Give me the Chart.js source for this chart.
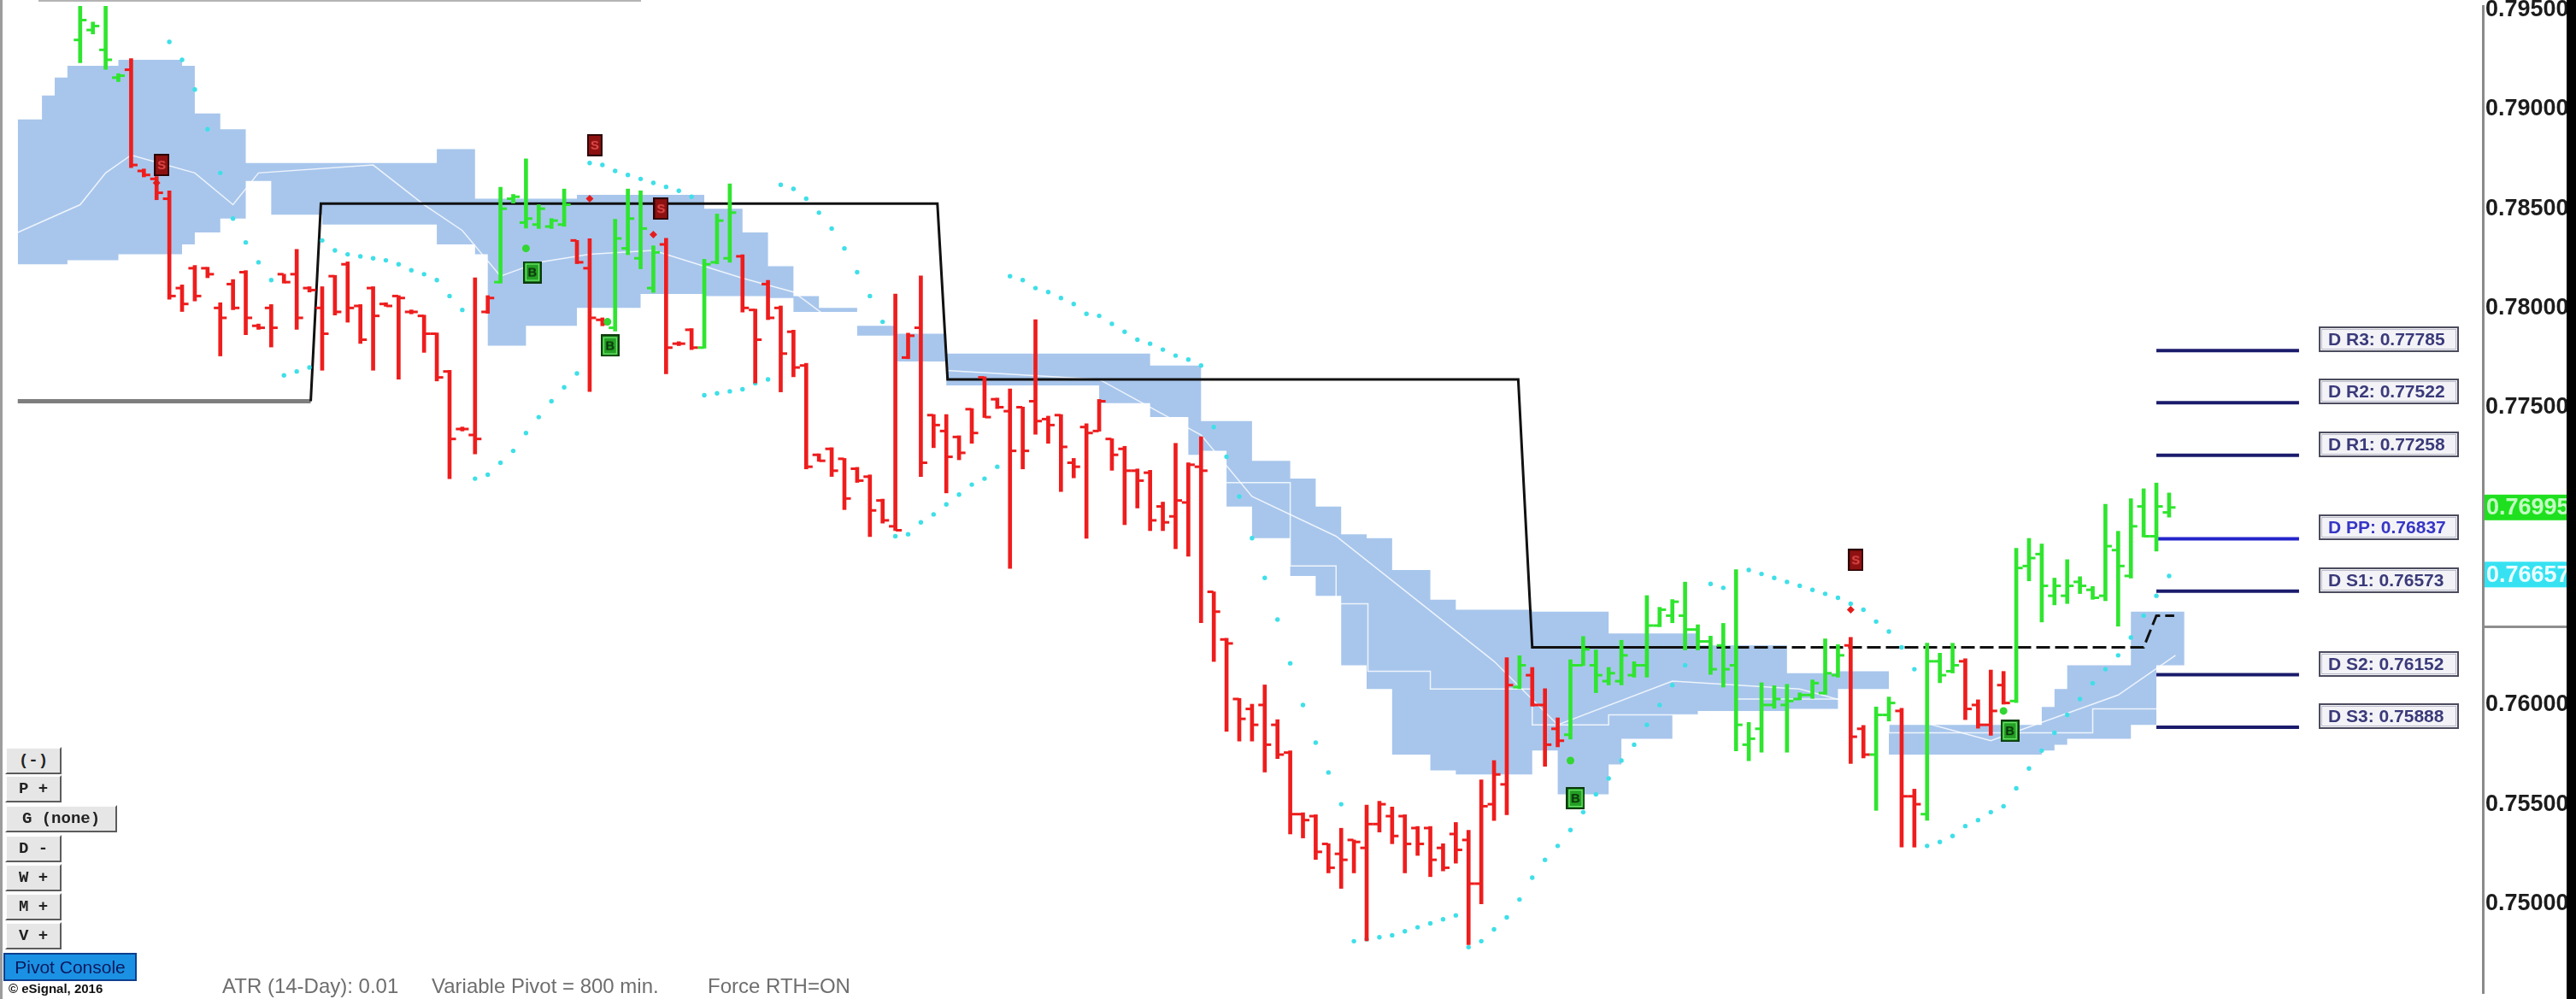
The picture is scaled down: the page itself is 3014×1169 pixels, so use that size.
<!DOCTYPE html>
<html>
<head>
<meta charset="utf-8">
<script src="https://cdn.jsdelivr.net/npm/chart.js@4.4.1/dist/chart.umd.min.js"></script>
<style>
  html, body { margin: 0; padding: 0; background: #fff; }
  #wrap { position: relative; width: 3014px; height: 1169px; overflow: hidden; background: #fff; }
  #chart { position: absolute; left: 0; top: 0; }
  .btn {
    position: absolute; left: 6px; width: 66px; height: 32px; box-sizing: border-box;
    background: #e6e6e6; border: 2px solid; border-color: #fdfdfd #5c5c5c #5c5c5c #fdfdfd;
    font: bold 19px "Liberation Mono", "DejaVu Sans Mono", monospace; color: #222;
    display: flex; align-items: center; justify-content: center; white-space: pre;
  }
  #console {
    position: absolute; left: 4px; top: 1115px; width: 156px; height: 33px; box-sizing: border-box;
    background: #1b91e4; border: 2px solid #0c3f8e; color: #0b1a5c;
    font: 21px "Liberation Sans", Arial, sans-serif; display: flex; align-items: center; justify-content: center;
  }
  #copy { position: absolute; left: 10px; top: 1148px; font: bold 15px "Liberation Sans", Arial, sans-serif; color: #111; }
  .info { position: absolute; top: 1140px; font: 24px "Liberation Sans", Arial, sans-serif; color: #6e6e6e; white-space: pre; }
  #leftEdge { position: absolute; left: 0; top: 0; width: 3px; height: 1169px; background: #9c9c9c; }
  #topEdge { position: absolute; left: 45px; top: 0; width: 705px; height: 2px; background: #b4b4b4; }
  #rightEdge { position: absolute; left: 3003px; top: 0; width: 11px; height: 1169px; background: #000; }
</style>
</head>
<body>
<div id="wrap">
  <canvas id="chart" width="3014" height="1169"></canvas>
  <div id="leftEdge"></div>
  <div id="topEdge"></div>
  <div class="btn" style="top:874px">(-)</div>
  <div class="btn" style="top:907px">P +</div>
  <div class="btn" style="top:942px;width:131px">G (none)</div>
  <div class="btn" style="top:977px">D -</div>
  <div class="btn" style="top:1011px">W +</div>
  <div class="btn" style="top:1045px">M +</div>
  <div class="btn" style="top:1079px">V +</div>
  <div id="console">Pivot Console</div>
  <div id="copy">© eSignal, 2016</div>
  <div class="info" style="left:260px">ATR (14-Day): 0.01</div>
  <div class="info" style="left:505px">Variable Pivot = 800 min.</div>
  <div class="info" style="left:828px">Force RTH=ON</div>
  <div id="rightEdge"></div>
</div>
<script>
// OHLC bars, one per bar index
const barOpen = [
  0.7935, 0.7940, 0.7930, 0.7916, 0.7920, 0.7869, 0.7865, 0.7855, 0.7810, 0.7820,
  0.7820, 0.7800, 0.7812, 0.7818, 0.7791, 0.7800, 0.7817, 0.7817, 0.7810, 0.7800,
  0.7816, 0.7822, 0.7801, 0.7810, 0.7802, 0.7806, 0.7798, 0.7796, 0.7787, 0.7768,
  0.7739, 0.7736, 0.7798, 0.7813, 0.7855, 0.7843, 0.7842, 0.7841, 0.7842, 0.7834,
  0.7820, 0.7794, 0.7790, 0.7830, 0.7825, 0.7810, 0.7832, 0.7782, 0.7789, 0.7780,
  0.7823, 0.7825, 0.7826, 0.7799, 0.7812, 0.7800, 0.7788, 0.7771, 0.7726, 0.7729,
  0.7724, 0.7719, 0.7715, 0.7703, 0.7690, 0.7775, 0.7790, 0.7746, 0.7738, 0.7735,
  0.7749, 0.7765, 0.7754, 0.7748, 0.7750, 0.7753, 0.7744, 0.7746, 0.7722, 0.7740,
  0.7738, 0.7734, 0.7729, 0.7718, 0.7717, 0.7700, 0.7695, 0.7702, 0.7720, 0.7657,
  0.7633, 0.7603, 0.7598, 0.7600, 0.7590, 0.7576, 0.7545, 0.7544, 0.7530, 0.7525,
  0.7532, 0.7528, 0.7540, 0.7544, 0.7544, 0.7538, 0.7538, 0.7528, 0.7535, 0.7532,
  0.7510, 0.7550, 0.7560, 0.7609, 0.7615, 0.7600, 0.7588, 0.7585, 0.7620, 0.7620,
  0.7612, 0.7612, 0.7615, 0.7620, 0.7640, 0.7645, 0.7645, 0.7638, 0.7632, 0.7630,
  0.7620, 0.7580, 0.7588, 0.7600, 0.7600, 0.7603, 0.7605, 0.7606, 0.7615, 0.7630,
  0.7588, 0.7575, 0.7595, 0.7597, 0.7554, 0.7545, 0.7622, 0.7617, 0.7622, 0.7600,
  0.7590, 0.7610, 0.7602, 0.7670, 0.7676, 0.7655, 0.7655, 0.7662, 0.7658, 0.7655,
  0.7678, 0.7665, 0.7700, 0.7685, 0.7697
];
const barHigh = [
  0.7975, 0.7944, 0.7975, 0.7918, 0.79256, 0.7870, 0.78662, 0.78590, 0.78116, 0.78214,
  0.78205, 0.78026, 0.78143, 0.78188, 0.77919, 0.78017, 0.78170, 0.78295, 0.78107, 0.78107,
  0.78164, 0.78232, 0.78017, 0.78107, 0.78026, 0.78062, 0.7799, 0.77964, 0.77874, 0.77686,
  0.7740, 0.78152, 0.78062, 0.78608, 0.78572, 0.78751, 0.7852, 0.7845, 0.78599, 0.78340,
  0.78349, 0.7795, 0.78447, 0.78599, 0.78590, 0.78313, 0.78351, 0.7783, 0.77896, 0.78245,
  0.78473, 0.78625, 0.78268, 0.77994, 0.78139, 0.7801, 0.77888, 0.77721, 0.77265, 0.77296,
  0.77242, 0.77197, 0.77159, 0.77037, 0.78070, 0.77873, 0.78161, 0.77463, 0.77463, 0.77356,
  0.77493, 0.77653, 0.77546, 0.77592, 0.77501, 0.77941, 0.77455, 0.77463, 0.77242, 0.77417,
  0.77539, 0.77341, 0.77303, 0.77189, 0.77182, 0.77022, 0.77318, 0.77220, 0.77351, 0.76570,
  0.76336, 0.76033, 0.76004, 0.76101, 0.75926, 0.75769, 0.75457, 0.75447, 0.75301, 0.75379,
  0.75320, 0.75496, 0.75515, 0.75486, 0.75447, 0.75388, 0.75388, 0.75301, 0.75408, 0.75369,
  0.75623, 0.75720, 0.76238, 0.76248, 0.76189, 0.76082, 0.75935, 0.76228, 0.76345, 0.76277,
  0.76189, 0.76326, 0.76218, 0.76551, 0.76492, 0.76531, 0.76619, 0.76404, 0.76347, 0.76411,
  0.76682, 0.75912, 0.76112, 0.76097, 0.76104, 0.76061, 0.76126, 0.76333, 0.76304, 0.76340,
  0.75897, 0.75990, 0.76040, 0.75983, 0.75576, 0.76311, 0.76261, 0.76311, 0.76233, 0.76026,
  0.76176, 0.76169, 0.76789, 0.76839, 0.76811, 0.76639, 0.76732, 0.76646, 0.76597, 0.77011,
  0.76875, 0.77039, 0.77089, 0.77118, 0.77068
];
const barLow = [
  0.79235, 0.7938, 0.79202, 0.7914, 0.78707, 0.7866, 0.78545, 0.78044, 0.77982, 0.78035,
  0.78152, 0.77758, 0.77991, 0.77865, 0.77892, 0.77803, 0.78125, 0.77892, 0.7808, 0.77686,
  0.77964, 0.77928, 0.77821, 0.77686, 0.78008, 0.77641, 0.7797, 0.77776, 0.77632, 0.77140,
  0.7738, 0.77265, 0.77973, 0.78125, 0.78528, 0.78402, 0.7840, 0.7840, 0.78411, 0.78223,
  0.77579, 0.7791, 0.77883, 0.78268, 0.78197, 0.78078, 0.77668, 0.7781, 0.7779, 0.77797,
  0.78222, 0.7823, 0.77979, 0.77622, 0.77941, 0.77577, 0.77653, 0.77189, 0.77227, 0.77151,
  0.76984, 0.77121, 0.76848, 0.76916, 0.76878, 0.77744, 0.77151, 0.77296, 0.77068, 0.77235,
  0.77318, 0.77448, 0.77493, 0.76688, 0.77189, 0.77364, 0.77318, 0.77075, 0.77144, 0.76840,
  0.77379, 0.77182, 0.76908, 0.76992, 0.76878, 0.76878, 0.76787, 0.76749, 0.76414, 0.76219,
  0.75867, 0.75818, 0.75818, 0.75662, 0.75730, 0.75350, 0.75330, 0.75222, 0.75154, 0.75076,
  0.75154, 0.74812, 0.75360, 0.75301, 0.75154, 0.75242, 0.75135, 0.75164, 0.75203, 0.74793,
  0.74998, 0.75418, 0.75447, 0.76082, 0.75994, 0.75691, 0.75789, 0.75828, 0.76199, 0.76062,
  0.76101, 0.76101, 0.76140, 0.76140, 0.76394, 0.76414, 0.76277, 0.76277, 0.76154, 0.76090,
  0.75769, 0.75719, 0.75762, 0.75983, 0.75762, 0.76026, 0.76033, 0.76054, 0.76140, 0.75705,
  0.75733, 0.75469, 0.75919, 0.75284, 0.75284, 0.75419, 0.76112, 0.76161, 0.75926, 0.75883,
  0.75847, 0.76004, 0.76012, 0.76625, 0.76418, 0.76504, 0.76511, 0.76561, 0.76532, 0.76525,
  0.76397, 0.76639, 0.76846, 0.76775, 0.76946
];
const barClose = [
  0.7945, 0.7942, 0.7925, 0.7917, 0.7872, 0.7867, 0.7858, 0.7806, 0.7802, 0.7806,
  0.7817, 0.7795, 0.7800, 0.7795, 0.7790, 0.7790, 0.7813, 0.7795, 0.7809, 0.7787,
  0.7798, 0.7800, 0.7784, 0.7796, 0.7801, 0.7805, 0.7798, 0.7787, 0.7765, 0.7734,
  0.7739, 0.7734, 0.7805, 0.7850, 0.7856, 0.7845, 0.7850, 0.7844, 0.7852, 0.7823,
  0.7795, 0.7792, 0.7835, 0.7845, 0.7840, 0.7828, 0.7780, 0.7782, 0.7780, 0.7822,
  0.7844, 0.7848, 0.7800, 0.7784, 0.7795, 0.7777, 0.7770, 0.7720, 0.7723, 0.7718,
  0.7704, 0.7713, 0.7698, 0.7693, 0.7688, 0.7786, 0.7722, 0.7741, 0.7725, 0.7727,
  0.7737, 0.7745, 0.7750, 0.7728, 0.7728, 0.7743, 0.7741, 0.7730, 0.7720, 0.7737,
  0.7753, 0.7726, 0.7718, 0.7713, 0.7693, 0.7692, 0.7703, 0.7721, 0.7718, 0.7647,
  0.7631, 0.7593, 0.7590, 0.7580, 0.7575, 0.7545, 0.7542, 0.7526, 0.7518, 0.7522,
  0.7531, 0.7540, 0.7550, 0.7534, 0.7530, 0.7530, 0.7522, 0.7518, 0.7527, 0.7510,
  0.7549, 0.7565, 0.7610, 0.7620, 0.7600, 0.7580, 0.7582, 0.7620, 0.7628, 0.7615,
  0.7616, 0.7625, 0.7620, 0.7640, 0.7648, 0.7652, 0.7638, 0.7632, 0.7618, 0.7618,
  0.7590, 0.7583, 0.7600, 0.7603, 0.7602, 0.7605, 0.7611, 0.7616, 0.7625, 0.7584,
  0.7575, 0.7595, 0.7601, 0.7554, 0.7550, 0.7622, 0.7615, 0.7620, 0.7598, 0.7590,
  0.7597, 0.7601, 0.7669, 0.7674, 0.7660, 0.7660, 0.7660, 0.7660, 0.7654, 0.7680,
  0.7670, 0.7690, 0.7685, 0.7700, 0.76995
];
// g = green bar, r = red bar
const barColor = (
  'ggggrrrrrr' + 'rrrrrrrrrr' + 'rrrrrrrrrr' + 'rrrggggggr' + 'rrggggrrrg' +
  'ggrrrrrrrr' + 'rrrrrrrrrr' + 'rrrrrrrrrr' + 'rrrrrrrrrr' + 'rrrrrrrrrr' +
  'rrrrrrrrrr' + 'rrrgrrrggg' + 'gggggggggg' + 'gggggggggr' + 'rggrrgggrr' +
  'rrgggggggg' + 'ggggg'
).split('');

// parabolic SAR dot per bar (null = none)
const sar = [
  null, null, null, null, null, null, null, 0.7934, 0.7925, 0.7910,
  0.7890, 0.7868, 0.7845, 0.7833, 0.7823, 0.7814, 0.7766, 0.7768, 0.7770, 0.7834,
  0.7829, 0.7827, 0.7826, 0.7825, 0.7824, 0.7822, 0.7819, 0.7817, 0.7814, 0.7806,
  0.7799, 0.7714, 0.7716, 0.7722, 0.7728, 0.7737, 0.7745, 0.7753, 0.7760, 0.7767,
  0.7873, 0.7872, 0.7869, 0.7867, 0.7865, 0.7863, 0.7861, 0.7859, 0.7856, 0.7756,
  0.7757, 0.7758, 0.7759, 0.7762, 0.7764, 0.7862, 0.7860, 0.7855, 0.7848, 0.7840,
  0.7830, 0.7818, 0.7806, 0.7793, 0.7685, 0.7686, 0.7692, 0.7696, 0.7701, 0.7706,
  0.7711, 0.7714, 0.7720, 0.7816, 0.7814, 0.7810, 0.7808, 0.7805, 0.7802, 0.7797,
  0.7796, 0.7792, 0.7788, 0.7784, 0.7782, 0.7779, 0.7776, 0.7774, 0.7771, 0.7740,
  0.7725, 0.7705, 0.7684, 0.7664, 0.7643, 0.7621, 0.7600, 0.7581, 0.7566, 0.7550,
  0.7481, 0.7482, 0.7483, 0.7484, 0.7486, 0.7488, 0.7490, 0.7492, 0.7494, 0.7478,
  0.7481, 0.7487, 0.7493, 0.7502, 0.7513, 0.7522, 0.7529, 0.7537, 0.7546, 0.7555,
  0.7563, 0.7572, 0.7580, 0.7590, 0.7600, 0.7610, 0.7620, null, 0.7661, 0.7659,
  null, 0.7668, 0.7666, 0.7664, 0.7662, 0.7660, 0.7658, 0.7656, 0.7654, 0.7651,
  0.7648, 0.7642, 0.7637, 0.7629, 0.7618, 0.7529, 0.7531, 0.7534, 0.7539, 0.7542,
  0.7546, 0.7549, 0.7558, 0.7568, 0.7577, 0.7586, 0.7595, 0.7603, 0.7611, 0.7618,
  0.7625, 0.7634, 0.7645, 0.7655, 0.7665
];

// cloud band: value holds from each break to the next
const cloudX = [-4.9, -3, -2, -1, 3, 8, 9, 11, 13, 15, 19, 28, 31, 32, 35, 39, 44, 49, 52, 54,
  56, 58, 61, 64, 68, 80, 84, 87, 88, 90, 92, 95, 97, 99, 101, 103, 106, 108, 114, 116,
  120, 121, 125, 127, 134, 138, 142, 154, 155, 156, 161, 163, 165.2];
const cloudTop = [0.7895, 0.7907, 0.7916, 0.7922, 0.7925, 0.7922, 0.7898, 0.7890, 0.7873, 0.7873,
  0.7873, 0.7880, 0.7855, 0.7855, 0.7855, 0.7857, 0.7857, 0.7850, 0.7838, 0.7821,
  0.7806, 0.7800, 0.7791, 0.7787, 0.7777, 0.7777, 0.7771, 0.7771, 0.7743, 0.7743,
  0.7723, 0.7714, 0.7700, 0.7686, 0.7684, 0.7668, 0.7653, 0.7648, 0.7647, 0.7647,
  0.7636, 0.7636, 0.7636, 0.7630, 0.7616, 0.7617, 0.7590, 0.7599, 0.7608, 0.7620,
  0.7647, 0.7647, 0.7647];
const cloudBot = [0.7822, 0.7822, 0.7822, 0.7824, 0.7827, 0.7832, 0.7838, 0.7845, 0.7864, 0.7847,
  0.7842, 0.7832, 0.7827, 0.7781, 0.7791, 0.7800, 0.7807, 0.7806, 0.7806, 0.7805,
  0.7798, 0.7798, 0.7786, 0.7773, 0.7761, 0.7752, 0.7745, 0.7726, 0.7728, 0.7700,
  0.7684, 0.7665, 0.7655, 0.7620, 0.7608, 0.7575, 0.7567, 0.7565, 0.7577, 0.7555,
  0.7570, 0.7583, 0.7595, 0.7597, 0.7598, 0.7608, 0.7575, 0.7577, 0.7580, 0.7583,
  0.7590, 0.7620, 0.7620];

// thin white lines running inside the cloud
const cloudLineAX = [-4.9, 0, 2, 4, 9, 12, 14, 23, 27, 30, 33, 36, 40, 45, 52, 56, 64, 80, 88, 92,
  98.6, 111, 116, 125, 135, 150, 160, 164.5];
const cloudLineAY = [0.7838, 0.7852, 0.7868, 0.7877, 0.7868, 0.7852, 0.7868, 0.7872, 0.7852, 0.7839,
  0.7816, 0.7823, 0.7827, 0.7829, 0.7815, 0.7808, 0.7770, 0.7764, 0.7736, 0.7705,
  0.7685, 0.7622, 0.7590, 0.7612, 0.7608, 0.7582, 0.7605, 0.7625];
const cloudLineBX = [88, 95, 98.6, 100.1, 101.1, 105.1, 106, 111.1, 114, 120, 130, 142, 152, 158, 164];
const cloudLineBY = [0.7712, 0.7670, 0.7651, 0.7651, 0.7617, 0.7617, 0.7608, 0.7608, 0.7590, 0.7595,
  0.7603, 0.7586, 0.7586, 0.7598, 0.7612];

// variable pivot step line
const pivotX = [-4.9, 18.1, 18.9, 67.3, 68.1, 112.9, 114.0, 127, 162.0, 163.0, 164.4];
const pivotY = [0.7753, 0.7753, 0.78525, 0.78525, 0.7764, 0.7764, 0.7629, 0.7629, 0.7629, 0.7645, 0.7645];

// daily pivot levels
const pivotNames = ['R3', 'R2', 'R1', 'PP', 'S1', 'S2', 'S3'];
const pivotLevels = [0.77785, 0.77522, 0.77258, 0.76837, 0.76573, 0.76152, 0.75888];
const pivotSpan = [163.0, 174.2];

// signals
const sellX = [6.4, 40.4, 45.6, 139.4];
const sellY = [0.7872, 0.7882, 0.7850, 0.7673];
const buyX = [35.5, 41.6, 117.4, 151.5];
const buyY = [0.7818, 0.7781, 0.7553, 0.7587];
const redDotX = [6, 40, 45, 139];
const redDotY = [0.7863, 0.7855, 0.7837, 0.7648];
const greenDotX = [35, 41.4, 117, 151];
const greenDotY = [0.7830, 0.7793, 0.7572, 0.7597];

// price flags on the axis
const flagValues = [0.76995, 0.76657];
const flagFill = ['#1fe01f', '#36e2f2'];
const flagText = ['#c4ffc4', '#eaffff'];
const axisMarks = [0.76395];

const yTicks = { min: 0.74549, max: 0.79521, step: 0.005 };

const RED = '#ee1d1d', GREEN = '#2fe52f';
const colOf = c => (c === 'g' ? GREEN : RED);

function makeBox(letter, w, h, edge, fill, inner, ink) {
  const c = document.createElement('canvas');
  c.width = w; c.height = h;
  const g = c.getContext('2d');
  g.fillStyle = edge; g.fillRect(0, 0, w, h);
  g.fillStyle = fill; g.fillRect(2, 2, w - 4, h - 4);
  if (inner) { g.strokeStyle = inner; g.lineWidth = 1; g.strokeRect(3.5, 3.5, w - 7, h - 7); }
  g.fillStyle = ink;
  g.font = 'bold 15px "Liberation Sans", Arial';
  g.textAlign = 'center'; g.textBaseline = 'middle';
  g.fillText(letter, w / 2, h / 2 + 1);
  return c;
}
const sellIcon = makeBox('S', 18, 26, '#2b0404', '#8e1111', null, '#e24a4a');
const buyIcon = makeBox('B', 22, 26, '#0b3a0b', '#24a024', '#7cf07c', '#0b2e0b');

const idx = barOpen.map((_, i) => i);
const pts = (xs, ys) => xs.map((x, k) => ({ x, y: ys[k] }));

const datasets = [
  {
    type: 'line', data: pts(cloudX, cloudTop), stepped: true, fill: '+1',
    backgroundColor: '#a8c6ec', borderWidth: 0, pointRadius: 0, order: 30
  },
  {
    type: 'line', data: pts(cloudX, cloudBot), stepped: true, fill: false,
    borderWidth: 0, pointRadius: 0, order: 31
  },
  {
    type: 'line', data: pts(cloudLineAX, cloudLineAY), borderColor: 'rgba(255,255,255,0.8)',
    borderWidth: 1.5, pointRadius: 0, fill: false, order: 25
  },
  {
    type: 'line', data: pts(cloudLineBX, cloudLineBY), stepped: true, borderColor: 'rgba(255,255,255,0.8)',
    borderWidth: 1.5, pointRadius: 0, fill: false, order: 25
  },
  {
    type: 'line', data: pts(pivotX, pivotY), borderColor: '#111', borderWidth: 3,
    pointRadius: 0, fill: false, order: 20,
    segment: {
      borderColor: c => (c.p0DataIndex === 0 ? '#7e7e7e' : '#111'),
      borderWidth: c => (c.p0DataIndex === 0 ? 5 : 3),
      borderDash: c => (c.p0.parsed.x >= 127 ? [16, 6] : undefined)
    }
  },
  ...pivotLevels.map((v, k) => ({
    type: 'line', data: [{ x: pivotSpan[0], y: v }, { x: pivotSpan[1], y: v }],
    borderColor: pivotNames[k] === 'PP' ? '#2424cc' : '#1b1b6c', borderWidth: 4,
    pointRadius: 0, fill: false, order: 15
  })),
  {
    type: 'scatter', data: idx.map(i => sar[i] == null ? null : { x: i, y: sar[i] }).filter(Boolean),
    pointStyle: 'circle', pointRadius: 2.7, backgroundColor: '#3fdfe8', borderWidth: 0, order: 12
  },
  {
    type: 'bar', data: idx.map(i => ({ x: i, y: [barLow[i], barHigh[i]] })),
    backgroundColor: barColor.map(colOf), barThickness: 4, borderWidth: 0, order: 8
  },
  {
    type: 'scatter', data: idx.map(i => ({ x: i - 0.27, y: barOpen[i] })),
    pointStyle: 'line', pointRadius: 3.5, borderWidth: 3, borderColor: barColor.map(colOf), order: 7
  },
  {
    type: 'scatter', data: idx.map(i => ({ x: i + 0.27, y: barClose[i] })),
    pointStyle: 'line', pointRadius: 3.5, borderWidth: 3, borderColor: barColor.map(colOf), order: 7
  },
  {
    type: 'scatter', data: pts(redDotX, redDotY), pointStyle: 'rectRot', pointRadius: 4.5,
    backgroundColor: '#e41c1c', borderWidth: 0, order: 5
  },
  {
    type: 'scatter', data: pts(greenDotX, greenDotY), pointStyle: 'circle', pointRadius: 4.5,
    backgroundColor: '#33d633', borderWidth: 0, order: 5
  },
  { type: 'scatter', data: pts(sellX, sellY), pointStyle: sellIcon, order: 2 },
  { type: 'scatter', data: pts(buyX, buyY), pointStyle: buyIcon, order: 2 }
];

const overlay = {
  id: 'overlay',
  afterDatasetsDraw(chart) {
    const { ctx, scales: { x, y } } = chart;
    ctx.save();
    ctx.font = 'bold 21px "Liberation Sans", Arial';
    ctx.textBaseline = 'middle';
    pivotNames.forEach((name, k) => {
      const py = y.getPixelForValue(pivotLevels[k]);
      const left = Math.round(x.getPixelForValue(pivotSpan[1])) + 23;
      const top = Math.round(py) - 28, w = 164, h = 30;
      ctx.fillStyle = '#f3f3f7';
      ctx.fillRect(left, top, w, h);
      ctx.strokeStyle = '#4c4c5e'; ctx.lineWidth = 2;
      ctx.strokeRect(left + 1, top + 1, w - 2, h - 2);
      ctx.strokeStyle = '#b9b9c9'; ctx.lineWidth = 1;
      ctx.strokeRect(left + 3.5, top + 3.5, w - 7, h - 7);
      ctx.fillStyle = name === 'PP' ? '#3636c6' : '#3a3a7a';
      ctx.fillText('D ' + name + ': ' + pivotLevels[k].toFixed(5), left + 11, top + h / 2 + 1);
    });
    ctx.restore();
  },
  afterDraw(chart) {
    const { ctx, scales: { y } } = chart;
    const ax = y.left + 2;
    ctx.save();
    axisMarks.forEach(v => {
      ctx.fillStyle = '#8e8e8e';
      ctx.fillRect(ax, Math.round(y.getPixelForValue(v)) - 1, 100, 3);
    });
    ctx.font = 'bold 27px "Liberation Sans", Arial';
    ctx.textBaseline = 'middle';
    flagValues.forEach((v, k) => {
      const py = y.getPixelForValue(v);
      ctx.fillStyle = flagFill[k];
      ctx.fillRect(ax, py - 15, 100, 30);
      ctx.fillStyle = flagText[k];
      ctx.fillText(v.toFixed(5), ax + 2, py + 1);
    });
    ctx.restore();
  }
};

// tick labels that sit next to a price flag are not shown
const nearFlag = v => flagValues.some(f => Math.abs(f - v) < 0.0017);

new Chart(document.getElementById('chart'), {
  type: 'scatter',
  data: { datasets },
  plugins: [overlay],
  options: {
    responsive: false,
    devicePixelRatio: 1,
    animation: false,
    layout: { padding: 0 },
    plugins: { legend: { display: false }, tooltip: { enabled: false } },
    elements: { line: { tension: 0 } },
    scales: {
      x: { type: 'linear', min: -5.824, max: 188.63, display: false, offset: false },
      y: {
        type: 'linear', position: 'right', min: yTicks.min, max: yTicks.max,
        afterFit: s => { s.width = 109; s.paddingTop = 0; s.paddingBottom = 0; },
        grid: { display: false, drawTicks: false },
        border: { display: true, color: '#8a8a8a', width: 3 },
        ticks: {
          stepSize: yTicks.step, includeBounds: false, padding: 3, color: '#1c1c1c',
          font: { family: '"Liberation Sans", Arial', size: 27, weight: 'bold' },
          callback: v => (nearFlag(v) ? '' : v.toFixed(5))
        }
      }
    }
  }
});
</script>
</body>
</html>
